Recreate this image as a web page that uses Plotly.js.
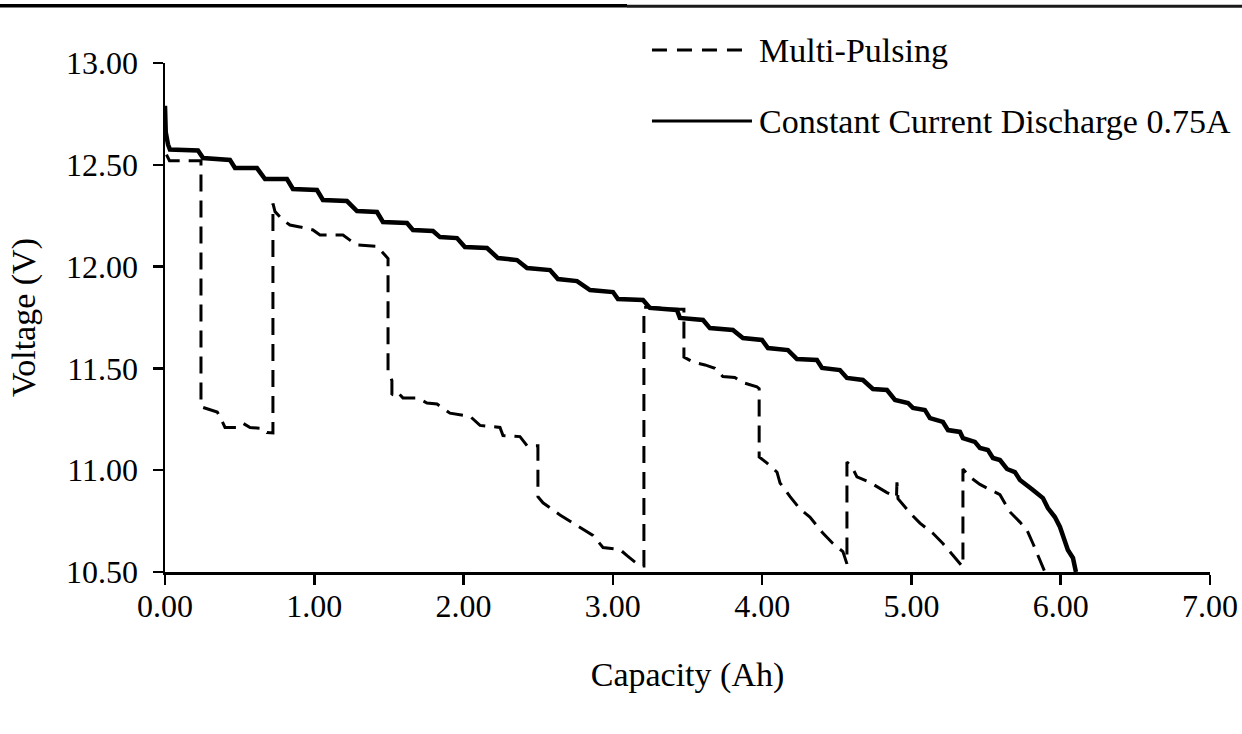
<!DOCTYPE html>
<html>
<head>
<meta charset="utf-8">
<script src="https://cdn.plot.ly/plotly-3.0.1.min.js"></script>
<style>
  html, body { margin: 0; padding: 0; background: #ffffff; }
  #chart { width: 1242px; height: 734px; }
</style>
</head>
<body>
<div id="chart"></div>
<script>
// ---- Data ----
const seriesNames = ["Multi-Pulsing", "Constant Current Discharge 0.75A"];
const xTitle = "Capacity (Ah)";
const yTitle = "Voltage (V)";

// Constant current discharge 0.75 A (solid)
const ccCapacity = [0.000, 0.005, 0.020, 0.033, 0.221, 0.255, 0.435, 0.469, 0.616, 0.670,
  0.817, 0.857, 1.018, 1.058, 1.219, 1.286, 1.420, 1.460, 1.621, 1.661,
  1.795, 1.842, 1.956, 2.009, 2.157, 2.230, 2.358, 2.425, 2.579, 2.632,
  2.760, 2.847, 3.001, 3.034, 3.202, 3.248, 3.429, 3.449, 3.604, 3.650,
  3.804, 3.871, 3.999, 4.039, 4.173, 4.233, 4.367, 4.401, 4.521, 4.568,
  4.675, 4.742, 4.836, 4.890, 4.977, 5.010, 5.090, 5.124, 5.211, 5.245,
  5.325, 5.345, 5.425, 5.459, 5.512, 5.546, 5.593, 5.640, 5.693, 5.727,
  5.814, 5.881, 5.914, 5.961, 5.995, 6.015, 6.048, 6.082, 6.102];
const ccVoltage = [12.79, 12.66, 12.60, 12.575, 12.570, 12.533, 12.524, 12.484, 12.484, 12.430,
  12.430, 12.381, 12.376, 12.327, 12.322, 12.273, 12.268, 12.219, 12.214, 12.180,
  12.175, 12.145, 12.140, 12.096, 12.091, 12.042, 12.032, 11.993, 11.983, 11.939,
  11.929, 11.885, 11.875, 11.841, 11.836, 11.797, 11.787, 11.748, 11.738, 11.698,
  11.689, 11.649, 11.640, 11.600, 11.590, 11.546, 11.541, 11.502, 11.492, 11.453,
  11.443, 11.399, 11.394, 11.345, 11.330, 11.306, 11.296, 11.256, 11.237, 11.197,
  11.188, 11.158, 11.139, 11.109, 11.099, 11.060, 11.050, 11.006, 10.991, 10.952,
  10.903, 10.863, 10.814, 10.770, 10.721, 10.672, 10.608, 10.569, 10.500];

// Multi-pulsing (dashed)
const mpCapacity = [0.010, 0.030, 0.241, 0.241, 0.248, 0.350, 0.370, 0.402, 0.483, 0.523,
  0.570, 0.657, 0.683, 0.723, 0.723, 0.737, 0.790, 0.837, 0.904, 0.991,
  1.038, 1.192, 1.239, 1.286, 1.420, 1.460, 1.494, 1.494, 1.520, 1.520,
  1.554, 1.594, 1.688, 1.755, 1.822, 1.909, 2.043, 2.110, 2.244, 2.264,
  2.378, 2.425, 2.498, 2.498, 2.532, 2.646, 2.780, 2.867, 2.934, 3.048,
  3.095, 3.181, 3.208, 3.208, 3.250, 3.400, 3.476, 3.476, 3.540, 3.617,
  3.684, 3.737, 3.817, 3.871, 3.965, 3.980, 3.980, 4.033, 4.100, 4.120,
  4.187, 4.253, 4.320, 4.408, 4.474, 4.541, 4.568, 4.568, 4.602, 4.635,
  4.722, 4.836, 4.900, 4.903, 4.910, 4.991, 5.057, 5.144, 5.211, 5.305,
  5.338, 5.345, 5.345, 5.392, 5.459, 5.593, 5.660, 5.727, 5.774, 5.814,
  5.847, 5.881, 5.894];
const mpVoltage = [12.55, 12.52, 12.52, 11.33, 11.31, 11.286, 11.26, 11.21, 11.21, 11.23,
  11.21, 11.205, 11.185, 11.183, 12.31, 12.27, 12.229, 12.204, 12.195, 12.18,
  12.155, 12.155, 12.13, 12.106, 12.10, 12.07, 12.04, 11.49, 11.44, 11.37,
  11.385, 11.355, 11.355, 11.33, 11.325, 11.28, 11.265, 11.22, 11.21, 11.17,
  11.165, 11.12, 11.12, 10.87, 10.84, 10.78, 10.72, 10.68, 10.62, 10.61,
  10.58, 10.53, 10.53, 11.80, 11.80, 11.79, 11.79, 11.556, 11.53, 11.517,
  11.50, 11.46, 11.455, 11.43, 11.41, 11.40, 11.065, 11.035, 10.99, 10.937,
  10.87, 10.81, 10.77, 10.69, 10.64, 10.60, 10.54, 11.04, 11.016, 10.967,
  10.94, 10.89, 10.87, 10.94, 10.86, 10.79, 10.74, 10.69, 10.64, 10.56,
  10.53, 10.53, 11.006, 10.967, 10.93, 10.88, 10.795, 10.745, 10.706, 10.64,
  10.58, 10.52, 10.50];

const xTickVals = [0, 1, 2, 3, 4, 5, 6, 7];
const xTickText = ["0.00", "1.00", "2.00", "3.00", "4.00", "5.00", "6.00", "7.00"];
const yTickVals = [10.5, 11.0, 11.5, 12.0, 12.5, 13.0];
const yTickText = ["10.50", "11.00", "11.50", "12.00", "12.50", "13.00"];

const FONT = "Liberation Serif, Times New Roman, serif";

const traces = [
  {
    x: mpCapacity, y: mpVoltage, name: seriesNames[0], type: "scatter", mode: "lines",
    line: { color: "#000000", width: 3, dash: "17px,9px" }, showlegend: false
  },
  {
    x: ccCapacity, y: ccVoltage, name: seriesNames[1], type: "scatter", mode: "lines",
    line: { color: "#000000", width: 4.5 }, showlegend: false
  }
];

const axisCommon = {
  showgrid: false, zeroline: false, showline: true,
  linecolor: "#000000", linewidth: 2.5,
  ticks: "outside", ticklen: 10, tickwidth: 2.5, tickcolor: "#000000",
  tickfont: { family: FONT, size: 32, color: "#000000" },
  automargin: false
};

const layout = {
  width: 1242, height: 734,
  paper_bgcolor: "#ffffff", plot_bgcolor: "#ffffff",
  margin: { l: 165, r: 32, t: 63, b: 162, pad: 0 },
  showlegend: false,
  font: { family: FONT, color: "#000000" },
  xaxis: Object.assign({}, axisCommon, {
    range: [0, 7], tickvals: xTickVals, ticktext: xTickText,
    ticklabelstandoff: -6,
    title: { text: xTitle, font: { family: FONT, size: 34, color: "#000000" }, standoff: 40 }
  }),
  yaxis: Object.assign({}, axisCommon, {
    range: [10.5, 13], tickvals: yTickVals, ticktext: yTickText,
    ticklabelstandoff: 8,
    title: { text: yTitle, font: { family: FONT, size: 34, color: "#000000" }, standoff: 20 }
  }),
  shapes: [
    // top rule
    { type: "line", xref: "paper", yref: "paper", x0: -0.158, x1: 0.4421, y0: 1.1125, y1: 1.1125,
      line: { color: "#000000", width: 3.5 } },
    { type: "line", xref: "paper", yref: "paper", x0: 0.4421, x1: 1.031, y0: 1.1115, y1: 1.1115,
      line: { color: "#1a1a1a", width: 3 } },
    // legend samples
    { type: "line", xref: "paper", yref: "paper", x0: 0.466, x1: 0.5617, y0: 1.0255, y1: 1.0255,
      line: { color: "#000000", width: 3, dash: "15px,10px" } },
    { type: "line", xref: "paper", yref: "paper", x0: 0.466, x1: 0.5617, y0: 0.886, y1: 0.886,
      line: { color: "#000000", width: 3 } }
  ],
  annotations: [
    { xref: "paper", yref: "paper", x: 0.5665, y: 1.0255, xanchor: "left", yanchor: "middle",
      text: seriesNames[0], showarrow: false, font: { family: FONT, size: 34, color: "#000000" } },
    { xref: "paper", yref: "paper", x: 0.5665, y: 0.886, xanchor: "left", yanchor: "middle",
      text: seriesNames[1], showarrow: false, font: { family: FONT, size: 34, color: "#000000" } }
  ]
};

Plotly.newPlot("chart", traces, layout, { staticPlot: true, displayModeBar: false });
</script>
</body>
</html>
